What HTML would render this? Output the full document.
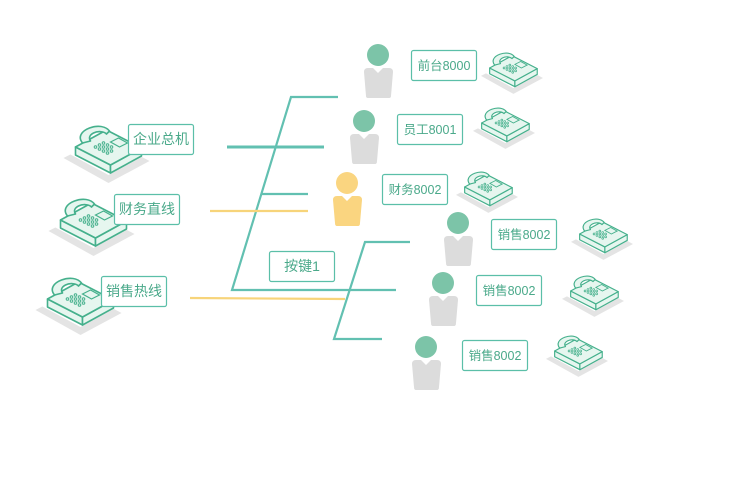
<!DOCTYPE html>
<html><head><meta charset="utf-8"><style>
html,body{margin:0;padding:0;background:#fff;width:730px;height:500px;overflow:hidden}
svg{display:block}
text{font-family:"Liberation Sans","Noto Sans CJK SC",sans-serif;fill:#4aa98a}
</style></head><body>
<svg width="730" height="500" viewBox="0 0 730 500" xmlns="http://www.w3.org/2000/svg">
<defs>
<symbol id="ph" viewBox="0 0 86 58">
  <polygon points="0,33 45,58 86,36 41,12" fill="#e4e4e4"/>
  <polygon points="6,29 45,50 80,31 41,10" fill="#fff"/>
  <polygon points="12,22 47,40 47,48 12,30" fill="#e6f6ef" stroke="#45b08c" stroke-width="1.6" stroke-linejoin="round"/>
  <polygon points="47,40 78,23 78,31 47,48" fill="#e6f6ef" stroke="#45b08c" stroke-width="1.6" stroke-linejoin="round"/>
  <polygon points="12,22 47,40 78,23 43,5" fill="#e6f6ef" stroke="#45b08c" stroke-width="1.6" stroke-linejoin="round"/>
  <path d="M19,18 C14,12 18,6 26,3 C34,0 42,1 46,6 L43,9 C40,6 34,6 30,8 C26,10 25,13 27,16 Z" fill="#e6f6ef" stroke="#45b08c" stroke-width="1.6" stroke-linejoin="round"/>
  <polygon points="47,17 55,13 64,18 56,22" fill="none" stroke="#45b08c" stroke-width="1.2"/>
  <g fill="none" stroke="#45b08c" stroke-width="1">
    <circle cx="32" cy="22" r="1.3"/><circle cx="36" cy="20" r="1.3"/><circle cx="40" cy="18" r="1.3"/>
    <circle cx="36" cy="24" r="1.3"/><circle cx="40" cy="22" r="1.3"/><circle cx="44" cy="20" r="1.3"/>
    <circle cx="40" cy="26" r="1.3"/><circle cx="44" cy="24" r="1.3"/><circle cx="48" cy="22" r="1.3"/>
    <circle cx="44" cy="28" r="1.3"/><circle cx="48" cy="26" r="1.3"/>
  </g>
</symbol>
</defs>

<!-- connector lines -->
<g stroke="#62c0b1" fill="none" stroke-width="2.2">
  <polyline points="338,97 291,97 232,290 396,290"/>
  <line x1="227" y1="147" x2="324" y2="147" stroke-width="3"/>
  <line x1="262" y1="194" x2="308" y2="194"/>
  <polyline points="410,242 365,242 334,339 382,339"/>
</g>
<g stroke="#f7d47a" stroke-width="2.2">
  <line x1="210" y1="211" x2="308" y2="211"/>
  <line x1="190" y1="298" x2="345" y2="299"/>
</g>

<!-- left phones -->
<use href="#ph" x="63" y="125" width="87" height="58"/>
<use href="#ph" x="48" y="198" width="87" height="58"/>
<use href="#ph" x="35" y="277" width="87" height="58"/>

<!-- right phones -->
<use href="#ph" x="481" y="52" width="62" height="42"/>
<use href="#ph" x="473" y="107" width="62" height="42"/>
<use href="#ph" x="456" y="171" width="62" height="42"/>
<use href="#ph" x="571" y="218" width="62" height="42"/>
<use href="#ph" x="562" y="275" width="62" height="42"/>
<use href="#ph" x="546" y="335" width="62" height="42"/>

<!-- people -->
<g>
  <circle cx="378" cy="55" r="11" fill="#7cc4a8"/>
  <path d="M368,68 L373,68 L378,73 L383,68 L389,68 Q393,68 393,72 L391,96 Q391,98 389,98 L368,98 Q366,98 366,96 L364,72 Q364,68 368,68Z" fill="#dcdcdc"/>
  <circle cx="364" cy="121" r="11" fill="#7cc4a8"/>
  <path d="M354,134 L359,134 L364,139 L369,134 L375,134 Q379,134 379,138 L377,161 Q377,164 375,164 L354,164 Q352,164 352,161 L350,138 Q350,134 354,134Z" fill="#dcdcdc"/>
  <circle cx="347" cy="183" r="11" fill="#fad580"/>
  <path d="M337,196 L342,196 L347,201 L352,196 L358,196 Q362,196 362,200 L360,223 Q360,226 358,226 L337,226 Q335,226 335,223 L333,200 Q333,196 337,196Z" fill="#fad580"/>
  <circle cx="458" cy="223" r="11" fill="#7cc4a8"/>
  <path d="M448,236 L453,236 L458,241 L463,236 L469,236 Q473,236 473,240 L471,263 Q471,266 469,266 L448,266 Q446,266 446,263 L444,240 Q444,236 448,236Z" fill="#dcdcdc"/>
  <circle cx="443" cy="283" r="11" fill="#7cc4a8"/>
  <path d="M433,296 L438,296 L443,301 L448,296 L454,296 Q458,296 458,300 L456,323 Q456,326 454,326 L433,326 Q431,326 431,323 L429,300 Q429,296 433,296Z" fill="#dcdcdc"/>
  <circle cx="426" cy="347" r="11" fill="#7cc4a8"/>
  <path d="M416,360 L421,360 L426,365 L431,360 L437,360 Q441,360 441,364 L439,387 Q439,390 437,390 L416,390 Q414,390 414,387 L412,364 Q412,360 416,360Z" fill="#dcdcdc"/>
</g>

<!-- labels -->
<g fill="#fff" stroke="#5bbfa8" stroke-width="1.2">
  <rect x="128.5" y="124.5" width="65" height="30" rx="2"/>
  <rect x="114.5" y="194.5" width="65" height="30" rx="2"/>
  <rect x="101.5" y="276.5" width="65" height="30" rx="2"/>
  <rect x="269.5" y="251.5" width="65" height="30" rx="2"/>
  <rect x="411.5" y="50.5" width="65" height="30" rx="2"/>
  <rect x="397.5" y="114.5" width="65" height="30" rx="2"/>
  <rect x="382.5" y="174.5" width="65" height="30" rx="2"/>
  <rect x="491.5" y="219.5" width="65" height="30" rx="2"/>
  <rect x="476.5" y="275.5" width="65" height="30" rx="2"/>
  <rect x="462.5" y="340.5" width="65" height="30" rx="2"/>
</g>
<g text-anchor="middle" font-size="14">
  <text x="161" y="144">企业总机</text>
  <text x="147" y="214">财务直线</text>
  <text x="134" y="296">销售热线</text>
  <text x="302" y="271">按键1</text>
</g>
<g text-anchor="middle" font-size="12.5">
  <text x="444" y="70">前台8000</text>
  <text x="430" y="134">员工8001</text>
  <text x="415" y="194">财务8002</text>
  <text x="524" y="239">销售8002</text>
  <text x="509" y="295">销售8002</text>
  <text x="495" y="360">销售8002</text>
</g>
</svg>
</body></html>
